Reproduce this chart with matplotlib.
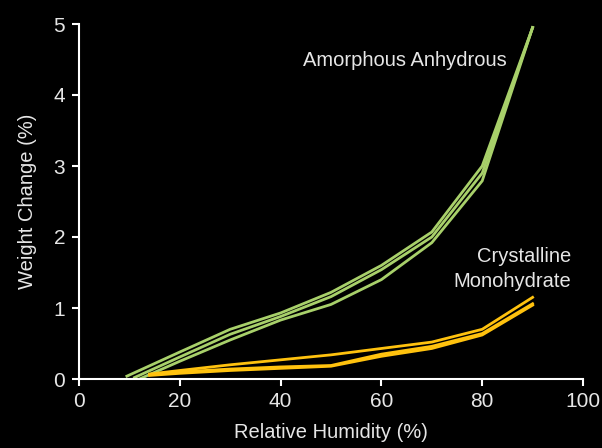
import matplotlib
matplotlib.use("Agg")
import matplotlib.pyplot as plt

# relative humidity steps (%)
rh_amorph = [9.5, 20, 30, 40, 50, 60, 70, 80, 90]
rh_amorph_b = [11, 20, 30, 40, 50, 60, 70, 80, 90]
rh_amorph_c = [12, 20, 30, 40, 50, 60, 70, 80, 90]

# weight change (%) - amorphous anhydrous cycles
amorph_a = [0.04, 0.38, 0.70, 0.93, 1.22, 1.60, 2.07, 3.00, 4.95]
amorph_b = [0.02, 0.31, 0.63, 0.88, 1.16, 1.54, 2.00, 2.90, 4.95]
amorph_c = [0.00, 0.25, 0.55, 0.83, 1.05, 1.40, 1.92, 2.79, 4.95]

# crystalline monohydrate sorption / desorption
rh_cryst = [14, 20, 30, 40, 50, 60, 70, 80, 90]
cryst_sorp = [0.05, 0.08, 0.12, 0.15, 0.18, 0.32, 0.43, 0.62, 1.04]
cryst_sorp2 = [0.06, 0.10, 0.14, 0.17, 0.19, 0.35, 0.46, 0.64, 1.06]
cryst_desorp = [0.07, 0.12, 0.20, 0.27, 0.34, 0.43, 0.52, 0.70, 1.15]

green = "#a8d06a"
yellow = "#ffc20e"
fg = "#e6e6e6"

plt.rcParams["font.family"] = ["Liberation Sans", "DejaVu Sans"]

fig = plt.figure(figsize=(6.02, 4.48), dpi=100, facecolor="black")
ax = fig.add_axes([79 / 602, 69 / 448, 504 / 602, 355 / 448], facecolor="black")

for ys, xs in [(amorph_a, rh_amorph), (amorph_b, rh_amorph_b), (amorph_c, rh_amorph_c)]:
    ax.plot(xs, ys, color=green, lw=2.0, solid_joinstyle="miter")
for ys in [cryst_sorp, cryst_sorp2, cryst_desorp]:
    ax.plot(rh_cryst, ys, color=yellow, lw=2.0, solid_joinstyle="miter")

ax.set_xlim(0, 100)
ax.set_ylim(0, 5)
ax.set_xticks([0, 20, 40, 60, 80, 100])
ax.set_yticks([0, 1, 2, 3, 4, 5])

for side in ["top", "right"]:
    ax.spines[side].set_visible(False)
for side in ["left", "bottom"]:
    ax.spines[side].set_color("white")
    ax.spines[side].set_linewidth(1.5)

ax.tick_params(colors="white", labelcolor=fg, labelsize=15, length=5, width=1.5, direction="out")
ax.tick_params(axis="x", pad=4)
ax.tick_params(axis="y", pad=5)

ax.set_xlabel("Relative Humidity (%)", color=fg, fontsize=14.5, labelpad=9)
ax.set_ylabel("Weight Change (%)", color=fg, fontsize=14.5, labelpad=12)

ax.text(64.7, 4.49, "Amorphous Anhydrous", color=fg, fontsize=14.5, ha="center", va="center")
ax.text(97.6, 1.55, "Crystalline\nMonohydrate", color=fg, fontsize=14.5, ha="right", va="center",
        linespacing=1.45, multialignment="right")

fig.savefig("out.png", dpi=100, facecolor="black")
